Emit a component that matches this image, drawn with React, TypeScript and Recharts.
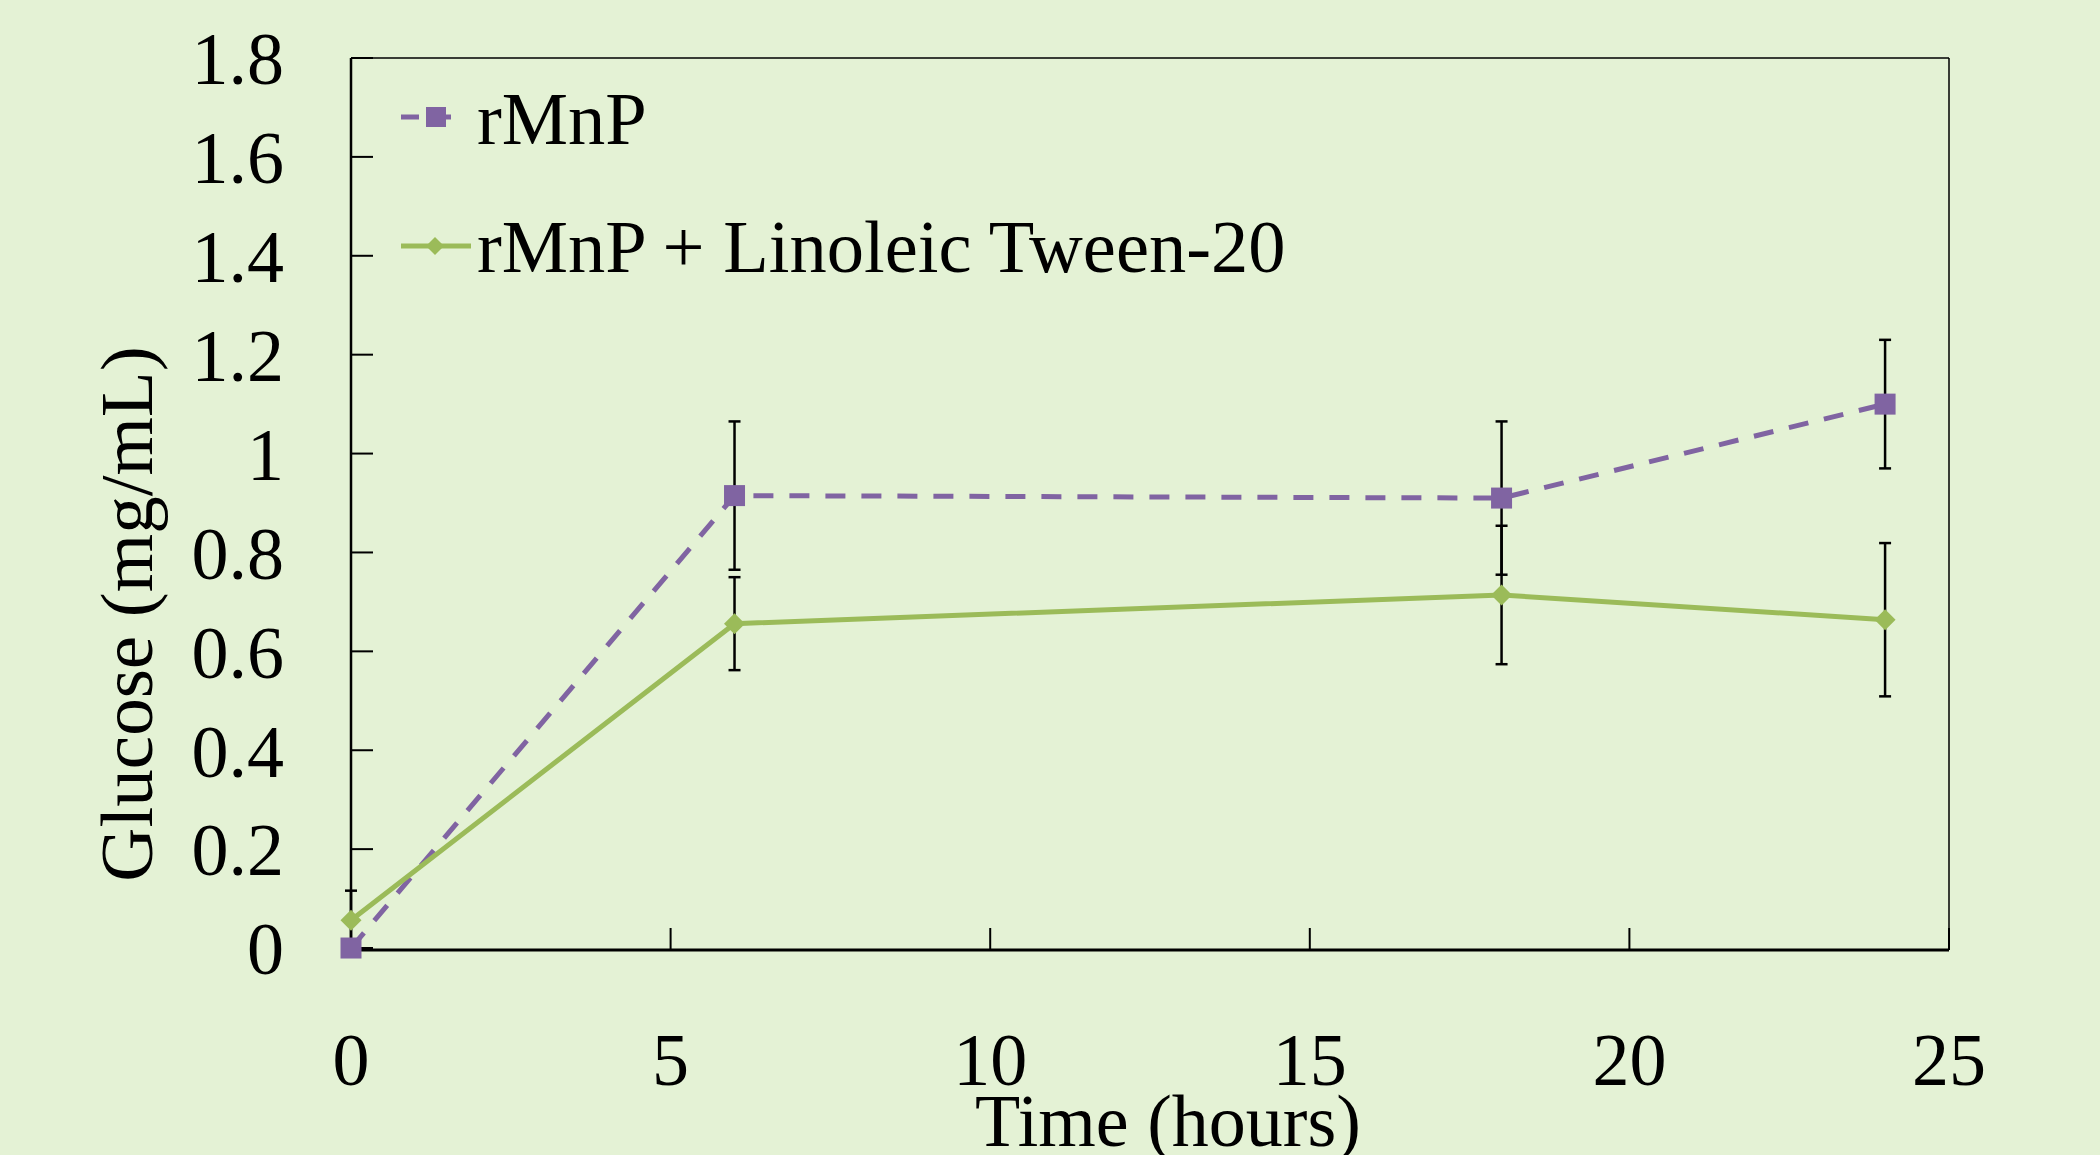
import React from 'react';
import { LineChart, Line, XAxis, YAxis, ErrorBar, ReferenceLine, Legend, Label } from 'recharts';

// time points (hours) and glucose readings (mg/mL)
const hours = [0, 6, 18, 24];
const rmnpGlucose = [0, 0.915, 0.91, 1.1];
const rmnpError = [0, 0.15, 0.155, 0.13];
const tweenGlucose = [0.056, 0.656, 0.714, 0.664];
const tweenError = [0.06, 0.094, 0.14, 0.155];

const xTicks = [0, 5, 10, 15, 20, 25];
const yTicks = [0, 0.2, 0.4, 0.6, 0.8, 1, 1.2, 1.4, 1.6, 1.8];
const seriesNames = ['rMnP', 'rMnP + Linoleic Tween-20'];

const PURPLE = '#8064A2';
const GREEN = '#9BBB59';
const BG = '#E4F2D5';
const FONT = '"Liberation Serif", "Times New Roman", serif';

const rmnpData = hours.map((h, i) => ({ hours: h, glucose: rmnpGlucose[i], err: rmnpError[i] }));
const tweenData = hours.map((h, i) => ({ hours: h, glucose: tweenGlucose[i], err: tweenError[i] }));

const SquareDot = (props: any) => {
  const { cx, cy } = props;
  if (cx == null || cy == null) return null;
  return <rect x={cx - 10.5} y={cy - 10.5} width={21} height={21} fill={PURPLE} />;
};

const DiamondDot = (props: any) => {
  const { cx, cy } = props;
  if (cx == null || cy == null) return null;
  return <path d={`M${cx},${cy - 10.5}L${cx + 10.5},${cy}L${cx},${cy + 10.5}L${cx - 10.5},${cy}Z`} fill={GREEN} />;
};

const YTitle = (props: any) => {
  const vb = props.viewBox || { x: 0, y: 58, width: 351, height: 892 };
  const x = vb.x + 152;
  const y = vb.y + vb.height / 2 + 110;
  return (
    <text x={x} y={y} transform={`rotate(-90 ${x} ${y})`} textAnchor="middle"
      fontFamily={FONT} fontSize={75} fill="#000">
      Glucose (mg/mL)
    </text>
  );
};

const XTitle = (props: any) => {
  const vb = props.viewBox || { x: 351, y: 950, width: 1598, height: 205 };
  return (
    <text x={vb.x + vb.width / 2 + 18} y={vb.y + 196} textAnchor="middle"
      fontFamily={FONT} fontSize={74} fill="#000">
      Time (hours)
    </text>
  );
};

const LegendBox = () => (
  <svg width={950} height={220} style={{ display: 'block', overflow: 'visible' }}>
    <line x1={11} y1={37} x2={65} y2={37} stroke={PURPLE} strokeWidth={5} strokeDasharray="18 14" />
    <rect x={36} y={27} width={20} height={20} fill={PURPLE} />
    <text x={87} y={64} fontFamily={FONT} fontSize={74.5} fill="#000">{seriesNames[0]}</text>
    <line x1={11} y1={166} x2={81} y2={166} stroke={GREEN} strokeWidth={5} />
    <path d="M45,157L54,166L45,175L36,166Z" fill={GREEN} />
    <text x={87} y={192} fontFamily={FONT} fontSize={74.5} fill="#000">{seriesNames[1]}</text>
  </svg>
);

const tickStyle = { fontSize: 74, fill: '#000', fontFamily: FONT };

export default function App() {
  return (
    <div style={{ position: 'absolute', left: 0, top: 0, width: 2100, height: 1155, background: BG }}>
      <LineChart width={2100} height={1155} margin={{ top: 58, right: 151, bottom: 0, left: 0 }}>
        <XAxis
          dataKey="hours"
          type="number"
          domain={[0, 25]}
          ticks={xTicks}
          interval={0}
          height={205}
          tickSize={-22}
          tickMargin={104}
          tick={tickStyle}
          axisLine={{ stroke: '#000', strokeWidth: 3 }}
          tickLine={{ stroke: '#000', strokeWidth: 2 }}
          allowDuplicatedCategory={false}
        >
          <Label content={<XTitle />} />
        </XAxis>
        <YAxis
          type="number"
          domain={[0, 1.8]}
          ticks={yTicks}
          interval={0}
          width={351}
          tickSize={-22}
          tickMargin={89}
          tick={tickStyle}
          axisLine={{ stroke: '#000', strokeWidth: 2.5 }}
          tickLine={{ stroke: '#000', strokeWidth: 2 }}
        >
          <Label content={<YTitle />} />
        </YAxis>
        <ReferenceLine y={1.8} stroke="#000" strokeWidth={1.7} />
        <ReferenceLine x={25} stroke="#000" strokeWidth={1.5} />
        <Line
          data={rmnpData}
          dataKey="glucose"
          name={seriesNames[0]}
          type="linear"
          stroke={PURPLE}
          strokeWidth={5}
          strokeDasharray="20 16"
          dot={<SquareDot />}
          activeDot={false}
          isAnimationActive={false}
        >
          <ErrorBar dataKey="err" direction="y" width={6} stroke="#000" strokeWidth={2.5} />
        </Line>
        <Line
          data={tweenData}
          dataKey="glucose"
          name={seriesNames[1]}
          type="linear"
          stroke={GREEN}
          strokeWidth={5}
          dot={<DiamondDot />}
          activeDot={false}
          isAnimationActive={false}
        >
          <ErrorBar dataKey="err" direction="y" width={6} stroke="#000" strokeWidth={2.5} />
        </Line>
        <Legend
          layout="vertical"
          align="center"
          verticalAlign="middle"
          wrapperStyle={{ left: 390, top: 80, width: 950, height: 220 }}
          content={() => <LegendBox />}
        />
      </LineChart>
    </div>
  );
}
